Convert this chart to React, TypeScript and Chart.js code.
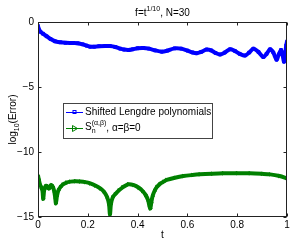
import React, { useEffect, useRef } from "react";
import { Chart, registerables } from "chart.js";

Chart.register(...registerables);

const blueT = [0.0, 0.003, 0.01, 0.02, 0.035, 0.05, 0.068, 0.09, 0.11, 0.14, 0.16, 0.18, 0.195, 0.209, 0.225, 0.245, 0.27, 0.289, 0.31, 0.33, 0.345, 0.363, 0.38, 0.4, 0.423, 0.445, 0.47, 0.497, 0.52, 0.548, 0.575, 0.6, 0.62, 0.637, 0.655, 0.677, 0.695, 0.713, 0.731, 0.75, 0.771, 0.79, 0.81, 0.831, 0.848, 0.865, 0.885, 0.905, 0.918, 0.932, 0.945, 0.958, 0.967, 0.976, 0.982, 0.988, 0.993, 0.997, 1.0];
const blueY = [-0.3, -0.55, -0.75, -0.9, -1.1, -1.3, -1.48, -1.56, -1.6, -1.62, -1.64, -1.72, -1.82, -1.9, -1.9, -1.86, -1.84, -1.85, -1.92, -2.05, -2.12, -2.15, -2.1, -2.02, -2.0, -2.05, -2.18, -2.28, -2.2, -2.03, -2.05, -2.2, -2.34, -2.4, -2.3, -2.12, -2.18, -2.38, -2.5, -2.35, -2.1, -2.22, -2.45, -2.58, -2.35, -2.05, -2.3, -2.7, -2.45, -2.1, -2.35, -2.9, -2.5, -2.15, -2.5, -3.05, -2.4, -1.8, -1.5];

const greenT = [0.0, 0.003, 0.008, 0.013, 0.018, 0.021, 0.025, 0.03, 0.035, 0.04, 0.045, 0.05, 0.055, 0.06, 0.065, 0.069, 0.072, 0.076, 0.082, 0.09, 0.1, 0.115, 0.13, 0.15, 0.17, 0.19, 0.21, 0.23, 0.25, 0.265, 0.277, 0.285, 0.289, 0.293, 0.3, 0.31, 0.325, 0.34, 0.363, 0.385, 0.405, 0.42, 0.432, 0.442, 0.447, 0.451, 0.455, 0.46, 0.468, 0.477, 0.49, 0.505, 0.517, 0.55, 0.584, 0.62, 0.65, 0.7, 0.744, 0.8, 0.851, 0.9, 0.932, 0.97, 1.0];
const greenY = [-11.8, -12.1, -12.5, -12.7, -13.0, -13.6, -12.9, -12.65, -12.6, -12.75, -12.8, -12.6, -12.55, -12.7, -13.0, -13.5, -13.95, -13.4, -12.95, -12.7, -12.5, -12.35, -12.28, -12.25, -12.27, -12.32, -12.42, -12.58, -12.8, -13.05, -13.45, -14.0, -14.8, -14.0, -13.5, -13.25, -12.95, -12.72, -12.48, -12.55, -12.75, -13.0, -13.3, -13.7, -14.1, -14.35, -13.9, -13.4, -13.0, -12.7, -12.45, -12.28, -12.15, -11.98, -11.85, -11.77, -11.72, -11.67, -11.64, -11.63, -11.64, -11.68, -11.72, -11.85, -12.03];

const xTicks = [0, 0.2, 0.4, 0.6, 0.8, 1];
const yTicks = [0, -5, -10, -15];

const titleParts = ["f=t", "1/10", ", N=30"];
const xLabel = "t";
const yLabelParts = ["log", "10", "(Error)"];
const legendText1 = "Shifted Lengdre polynomials";
const legendText2Parts = ["S", "(α,β)", "n", ", α=β=0"];

const FONT = "'Liberation Sans', Arial, sans-serif";
const BLUE = "#0000ff";
const GREEN = "#008000";

function fmtX(v: number) {
  if (v === 0) return "0";
  if (v === 1) return "1";
  return v.toFixed(1);
}
function fmtY(v: number) {
  return v < 0 ? "\u2212" + Math.abs(v) : String(v);
}

const decorPlugin = {
  id: "decor",
  afterDatasetsDraw(chart: any) {
    const ctx = chart.ctx as CanvasRenderingContext2D;
    const a = chart.chartArea;
    const xs = chart.scales.x;
    const ys = chart.scales.y;
    ctx.save();
    // frame
    ctx.strokeStyle = "#222";
    ctx.lineWidth = 1;
    const L = Math.round(a.left) + 0.5;
    const R = Math.round(a.right) - 0.5;
    const T = Math.round(a.top) + 0.5;
    const B = Math.round(a.bottom) - 0.5;
    ctx.strokeRect(L, T, R - L, B - T);
    // inward ticks
    const tl = 3;
    ctx.beginPath();
    for (const v of xTicks) {
      const px = Math.round(xs.getPixelForValue(v)) + 0.5;
      ctx.moveTo(px, B);
      ctx.lineTo(px, B - tl);
      ctx.moveTo(px, T);
      ctx.lineTo(px, T + tl);
    }
    for (const v of yTicks) {
      const py = Math.round(ys.getPixelForValue(v)) + 0.5;
      ctx.moveTo(L, py);
      ctx.lineTo(L + tl, py);
      ctx.moveTo(R, py);
      ctx.lineTo(R - tl, py);
    }
    ctx.stroke();

    // legend
    const lx = 63.5, ly = 103.5, lw = 149, lh = 35;
    ctx.fillStyle = "#fff";
    ctx.fillRect(lx, ly, lw, lh);
    ctx.strokeStyle = "#444";
    ctx.strokeRect(lx, ly, lw, lh);
    // entry 1
    const y1 = 112;
    ctx.strokeStyle = BLUE;
    ctx.beginPath();
    ctx.moveTo(66, y1 + 0.5);
    ctx.lineTo(83, y1 + 0.5);
    ctx.stroke();
    ctx.strokeRect(73, y1 - 1.5, 3, 3);
    ctx.fillStyle = "#000";
    ctx.font = `10px ${FONT}`;
    ctx.textBaseline = "middle";
    ctx.textAlign = "left";
    ctx.fillText(legendText1, 85, y1);
    // entry 2
    const y2 = 128;
    ctx.strokeStyle = GREEN;
    ctx.beginPath();
    ctx.moveTo(66, y2 + 0.5);
    ctx.lineTo(83, y2 + 0.5);
    ctx.stroke();
    ctx.fillStyle = GREEN;
    ctx.beginPath();
    ctx.moveTo(72.5, y2 - 2.5);
    ctx.lineTo(77.5, y2 + 0.5);
    ctx.lineTo(72.5, y2 + 3.5);
    ctx.closePath();
    ctx.stroke();
    ctx.fillStyle = "#000";
    ctx.font = `10px ${FONT}`;
    ctx.textBaseline = "alphabetic";
    ctx.fillText(legendText2Parts[0], 85, y2 + 2);
    const sW = ctx.measureText(legendText2Parts[0]).width;
    ctx.font = `7px ${FONT}`;
    ctx.fillText(legendText2Parts[1], 85 + sW, y2 - 3);
    const supW = ctx.measureText(legendText2Parts[1]).width;
    ctx.fillText(legendText2Parts[2], 85 + sW, y2 + 5);
    ctx.font = `10px ${FONT}`;
    ctx.fillText(legendText2Parts[3], 85 + sW + supW, y2 + 3);

    // title
    ctx.textBaseline = "alphabetic";
    ctx.font = `10px ${FONT}`;
    const w0 = ctx.measureText(titleParts[0]).width;
    const w2 = ctx.measureText(titleParts[2]).width;
    ctx.font = `7px ${FONT}`;
    const w1 = ctx.measureText(titleParts[1]).width;
    const cx = (a.left + a.right) / 2;
    let tx = cx - (w0 + w1 + w2) / 2;
    const tb = 16;
    ctx.font = `10px ${FONT}`;
    ctx.fillText(titleParts[0], tx, tb);
    tx += w0;
    ctx.font = `7px ${FONT}`;
    ctx.fillText(titleParts[1], tx, tb - 5);
    tx += w1;
    ctx.font = `10px ${FONT}`;
    ctx.fillText(titleParts[2], tx, tb);

    // x label
    ctx.textAlign = "center";
    ctx.textBaseline = "middle";
    ctx.fillText(xLabel, cx, 235);

    // y label
    ctx.save();
    ctx.translate(13, (a.top + a.bottom) / 2);
    ctx.rotate(-Math.PI / 2);
    ctx.textAlign = "left";
    ctx.textBaseline = "alphabetic";
    ctx.font = `10px ${FONT}`;
    const a0 = ctx.measureText(yLabelParts[0]).width;
    const a2 = ctx.measureText(yLabelParts[2]).width;
    ctx.font = `7px ${FONT}`;
    const a1 = ctx.measureText(yLabelParts[1]).width;
    let yx = -(a0 + a1 + a2) / 2;
    ctx.font = `10px ${FONT}`;
    ctx.fillText(yLabelParts[0], yx, 3);
    yx += a0;
    ctx.font = `7px ${FONT}`;
    ctx.fillText(yLabelParts[1], yx, 6);
    yx += a1;
    ctx.font = `10px ${FONT}`;
    ctx.fillText(yLabelParts[2], yx, 3);
    ctx.restore();

    ctx.restore();
  },
};

export default function App() {
  const ref = useRef<HTMLCanvasElement | null>(null);
  useEffect(() => {
    document.body.style.margin = "0";
    const canvas = ref.current!;
    const chart = new Chart(canvas, {
      type: "line",
      data: {
        datasets: [
          {
            label: legendText1,
            data: blueT.map((t, i) => ({ x: t, y: blueY[i] })),
            borderColor: BLUE,
            backgroundColor: "rgba(0,0,0,0)",
            borderWidth: 4,
            pointStyle: "rect",
            pointRadius: 2,
            pointBorderWidth: 1,
            pointBorderColor: BLUE,
            pointBackgroundColor: "rgba(0,0,0,0)",
            tension: 0.3,
          },
          {
            label: "S",
            data: greenT.map((t, i) => ({ x: t, y: greenY[i] })),
            borderColor: GREEN,
            backgroundColor: "rgba(0,0,0,0)",
            borderWidth: 4,
            pointStyle: "triangle",
            pointRotation: 90,
            pointRadius: 2,
            pointBorderWidth: 1,
            pointBorderColor: GREEN,
            pointBackgroundColor: GREEN,
            tension: 0.3,
          },
        ],
      },
      options: {
        animation: false,
        responsive: false,
        devicePixelRatio: 1,
        layout: { padding: { top: 22, right: 5, left: 0, bottom: 0 } },
        plugins: { legend: { display: false }, tooltip: { enabled: false }, title: { display: false } },
        scales: {
          x: {
            type: "linear",
            min: 0,
            max: 1,
            afterBuildTicks: (s: any) => {
              s.ticks = xTicks.map((v) => ({ value: v }));
            },
            afterFit: (s: any) => {
              s.height = 24;
            },
            ticks: {
              autoSkip: false,
              maxRotation: 0,
              padding: 2,
              color: "#000",
              font: { family: FONT, size: 10 },
              callback: (v: any) => fmtX(Number(v)),
            },
            grid: { display: true, drawOnChartArea: false, drawTicks: false, color: "rgba(0,0,0,0)" },
            border: { display: false },
          },
          y: {
            type: "linear",
            min: -15,
            max: 0,
            afterBuildTicks: (s: any) => {
              s.ticks = yTicks.map((v) => ({ value: v }));
            },
            afterFit: (s: any) => {
              s.width = 38;
            },
            ticks: {
              autoSkip: false,
              padding: 4,
              color: "#000",
              font: { family: FONT, size: 10 },
              callback: (v: any) => fmtY(Number(v)),
            },
            grid: { display: true, drawOnChartArea: false, drawTicks: false, color: "rgba(0,0,0,0)" },
            border: { display: false },
          },
        },
      },
      plugins: [decorPlugin],
    });
    return () => chart.destroy();
  }, []);
  return (
    <div style={{ position: "absolute", left: 0, top: 0, width: 292, height: 241, background: "#fff" }}>
      <canvas ref={ref} width={292} height={241} style={{ width: 292, height: 241 }} />
    </div>
  );
}
